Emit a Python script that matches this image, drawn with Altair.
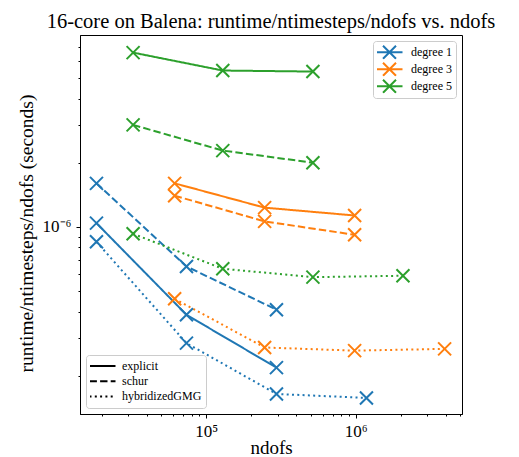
import altair as alt
import pandas as pd

degrees = ["degree 1", "degree 3", "degree 5"]
methods = ["explicit", "schur", "hybridizedGMG"]
colors = ["#1f77b4", "#ff7f0e", "#2ca02c"]

ndofs_deg1 = [18432, 73728, 294912, 1179648]
ndofs_deg3 = [61440, 245760, 983040, 3932160]
ndofs_deg5 = [32400, 129000, 517000, 2070000]

deg1_explicit = [1.04e-6, 3.86e-7, 2.18e-7]
deg1_schur = [1.60e-6, 6.51e-7, 4.08e-7]
deg1_hybrid = [8.5e-7, 2.84e-7, 1.64e-7, 1.57e-7]

deg3_explicit = [1.60e-6, 1.23e-6, 1.13e-6]
deg3_schur = [1.40e-6, 1.06e-6, 9.17e-7]
deg3_hybrid = [4.59e-7, 2.71e-7, 2.62e-7, 2.67e-7]

deg5_explicit = [6.58e-6, 5.42e-6, 5.36e-6]
deg5_schur = [3.01e-6, 2.28e-6, 2.00e-6]
deg5_hybrid = [9.27e-7, 6.35e-7, 5.80e-7, 5.89e-7]

x_major = [1e5, 1e6]
x_minor = [2e4, 3e4, 4e4, 5e4, 6e4, 7e4, 8e4, 9e4,
           2e5, 3e5, 4e5, 5e5, 6e5, 7e5, 8e5, 9e5,
           2e6, 3e6, 4e6, 5e6]
y_major = [1e-6]
y_minor = [2e-7, 3e-7, 4e-7, 5e-7, 6e-7, 7e-7, 8e-7, 9e-7,
           2e-6, 3e-6, 4e-6, 5e-6, 6e-6, 7e-6]

series = [
    ("degree 1", ndofs_deg1, {"explicit": deg1_explicit, "schur": deg1_schur, "hybridizedGMG": deg1_hybrid}),
    ("degree 3", ndofs_deg3, {"explicit": deg3_explicit, "schur": deg3_schur, "hybridizedGMG": deg3_hybrid}),
    ("degree 5", ndofs_deg5, {"explicit": deg5_explicit, "schur": deg5_schur, "hybridizedGMG": deg5_hybrid}),
]
rows = []
for deg, xs_, d in series:
    for m in methods:
        for xv, yv in zip(xs_, d[m]):
            rows.append({"degree": deg, "method": m, "ndofs": xv, "time": yv})
df = pd.DataFrame(rows)

FONT = "'Liberation Serif', 'Times New Roman', Times, serif"
XPATH = "M-1,-1L1,1M-1,1L1,-1"

xs = alt.Scale(type="log", domain=[1.43e4, 5.14e6], nice=False)
ys = alt.Scale(type="log", domain=[1.32e-7, 7.96e-6], nice=False)
cs = alt.Scale(domain=degrees, range=colors)

color_legend = alt.Legend(
    title=None, orient="top-right", offset=6,
    symbolType="M-2,0L2,0M-1,-1L1,1M-1,1L1,-1", symbolSize=169,
    symbolStrokeWidth=2, symbolOffset=5, labelOffset=14,
    labelFont=FONT, labelFontSize=12, labelColor="black",
    padding=4, rowPadding=2, clipHeight=14.5, strokeColor="#cccccc", fillColor="white",
    cornerRadius=3,
)
dash_legend = alt.Legend(
    title=None, orient="bottom-left", offset=6,
    symbolType="M-2,0L2,0", symbolSize=169, symbolStrokeColor="black",
    symbolStrokeWidth=2, symbolOffset=5, labelOffset=12,
    labelFont=FONT, labelFontSize=12, labelColor="black",
    padding=4, rowPadding=1.2, clipHeight=14, strokeColor="#cccccc", fillColor="white",
    cornerRadius=3,
)

base = alt.Chart(df)

lines = base.mark_line(strokeWidth=2).encode(
    x=alt.X("ndofs:Q", scale=xs, axis=alt.Axis(
        values=x_major, tickSize=4, labelExpr="datum.value < 500000 ? '10⁵' : '10⁶'",
        labelBaseline="alphabetic", labelPadding=18, labelFontSize=17,
        title="ndofs", titleFontSize=19, titleX=191, titleY=39, titleBaseline="alphabetic",
        orient="bottom")),
    y=alt.Y("time:Q", scale=ys, axis=alt.Axis(
        values=y_major, tickSize=4, labelExpr="'10⁻⁶'", labelPadding=5, labelFontSize=17,
        title="runtime/ntimesteps/ndofs (seconds)", titleFontSize=19.5,
        titleX=-54, titleY=198, titleAngle=270, titleAlign="center", titleBaseline="middle",
        orient="left")),
    color=alt.Color("degree:N", scale=cs, legend=color_legend),
    strokeDash=alt.StrokeDash("method:N", scale=alt.Scale(
        domain=methods, range=[[1, 0], [7.4, 3.2], [2, 3.3]]), legend=dash_legend),
    order="ndofs:Q",
)

points = base.mark_point(shape=XPATH, size=169, filled=False, strokeWidth=2, opacity=1).encode(
    x=alt.X("ndofs:Q", scale=xs, axis=alt.Axis(
        values=x_minor, tickSize=2, labels=False, title="", orient="bottom", domain=False)),
    y=alt.Y("time:Q", scale=ys, axis=alt.Axis(
        values=y_minor, tickSize=2, labels=False, title="", orient="left", domain=False)),
    color=alt.Color("degree:N", scale=cs, legend=color_legend),
)

chart = alt.layer(lines, points).resolve_axis(x="independent", y="independent").properties(
    width=382, height=379,
    title=alt.TitleParams(text="16-core on Balena: runtime/ntimesteps/ndofs vs. ndofs",
                          font=FONT, fontSize=20.5, fontWeight="normal", anchor="middle",
                          offset=3, color="black"),
    autosize=alt.AutoSizeParams(type="none"),
    padding={"left": 72, "top": 27, "right": 49, "bottom": 48},
).configure_view(stroke="black", strokeWidth=1).configure_axis(
    grid=False, domainColor="black", tickColor="black", labelColor="black",
    titleColor="black", labelFont=FONT, titleFont=FONT, titleFontWeight="normal",
)

chart.save("out.html", embed_options={"renderer": "svg", "actions": False})
